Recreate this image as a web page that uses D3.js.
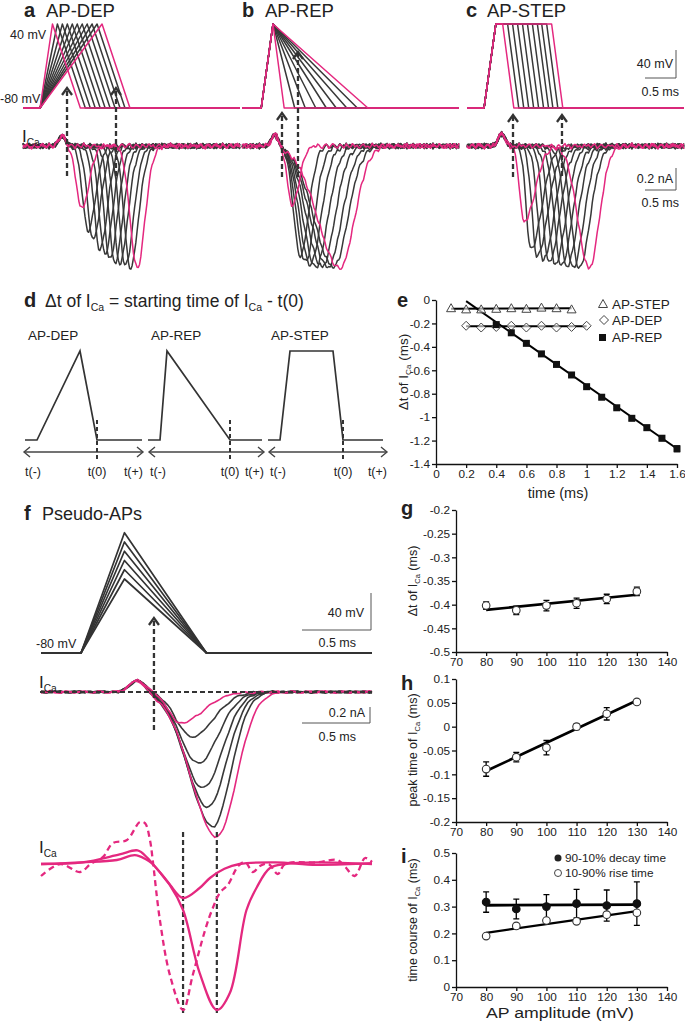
<!DOCTYPE html>
<html><head><meta charset="utf-8">
<script src="https://cdn.jsdelivr.net/npm/d3@7/dist/d3.min.js"></script>
<style>html,body{margin:0;padding:0;background:#fff;}svg{display:block}</style>
</head><body>
<script>
// ================= DATA =================
// Panel a (AP-DEP): depolarisation durations (ms) and I_Ca trough parameters (ms, nA)
const depDur = [0.20,0.28,0.36,0.44,0.52,0.60,0.68,0.76,0.84,0.92,1.00];
const aOn  = [0.72,0.82,0.90,1.00,1.08,1.16,1.24,1.32,1.40,1.48,1.55];
const aTr  = [0.95,1.05,1.13,1.24,1.32,1.40,1.48,1.56,1.65,1.73,1.84];
const aAmp = [-0.57,-0.77,-0.85,-0.94,-0.98,-1.03,-1.06,-1.07,-1.09,-1.11,-1.11];
const aEnd = [1.25,1.36,1.45,1.56,1.65,1.73,1.82,1.90,1.99,2.07,2.17];
// Panel b (AP-REP)
const repDur = [0.18,0.35,0.52,0.69,0.86,1.02,1.19,1.36,1.53];
const bOn  = [0.61,0.66,0.66,0.66,0.66,0.66,0.66,0.66,0.66];
const bTr  = [0.81,0.94,1.02,1.10,1.19,1.29,1.39,1.48,1.58];
const bAmp = [-0.54,-1.00,-1.05,-1.08,-1.10,-1.10,-1.10,-1.10,-1.11];
const bEnd = [1.10,1.29,1.42,1.55,1.69,1.82,1.95,2.06,2.18];
// Panel c (AP-STEP)
const stepDur = [0.11,0.19,0.27,0.35,0.43,0.51,0.59,0.67,0.74,0.82,0.90];
const cOn  = [0.74,0.84,0.92,1.00,1.08,1.15,1.23,1.31,1.39,1.47,1.50];
const cTr  = [0.92,1.03,1.13,1.23,1.32,1.42,1.52,1.61,1.71,1.81,1.97];
const cAmp = [-0.69,-0.94,-1.00,-1.04,-1.06,-1.08,-1.09,-1.10,-1.11,-1.11,-1.11];
const cEnd = [1.37,1.48,1.58,1.68,1.77,1.87,1.97,2.06,2.16,2.26,2.39];
// baseline jitter pattern (relative units)
const jitterPattern = [0.3,-0.5,0.8,-0.2,-0.9,0.4,0.6,-0.7,0.1,0.9,-0.4,-0.6,0.5,0.2,-0.8,0.7,-0.1,-0.5,0.9,-0.3,0.4,-0.9,0.2,0.6,-0.4,0.1,-0.7,0.8,-0.2,0.5,-0.6,0.3,0.7,-0.8,0.0,0.6,-0.3,-0.5,0.4,-0.1];

// Panel d schematic shapes (time units, normalised V)
const dDep  = [[0,0],[0.12,0],[0.55,1],[0.72,0],[1.17,0]];
const dRep  = [[0,0],[0.12,0],[0.19,1],[0.82,0],[1.14,0]];
const dStep = [[0,0],[0.12,0],[0.22,1],[0.65,1],[0.75,0],[1.15,0]];
const dT0   = [0.72,0.82,0.75];
const dNames = ["AP-DEP","AP-REP","AP-STEP"];
const dTickLabels = ["t(-)","t(0)","t(+)"];

// Panel e
const eStepX = [0.1,0.2,0.3,0.4,0.5,0.6,0.7,0.8,0.9];
const eStepY = [-0.07,-0.08,-0.08,-0.075,-0.07,-0.075,-0.065,-0.07,-0.08];
const eDepX  = [0.2,0.3,0.4,0.5,0.6,0.7,0.8,0.9,1.0];
const eDepY  = [-0.22,-0.235,-0.23,-0.22,-0.235,-0.22,-0.235,-0.23,-0.22];
const eRepX  = [0.4,0.5,0.6,0.7,0.8,0.9,1.0,1.1,1.2,1.3,1.4,1.5,1.6];
const eRepY  = [-0.21,-0.28,-0.37,-0.46,-0.55,-0.64,-0.74,-0.83,-0.92,-1.01,-1.09,-1.18,-1.27];
const eRepErr= [0,0,0,0,0,0,0,0,0.01,0.015,0.02,0.02,0.025];
const eStepFit = [[0.1,-0.075],[0.9,-0.07]];
const eDepFit  = [[0.2,-0.225],[1.0,-0.225]];
const eRepFit  = [[0.2,-0.01],[1.6,-1.27]];
const eXTicks = [0,0.2,0.4,0.6,0.8,1,1.2,1.4,1.6];
const eYTicks = [0,-0.2,-0.4,-0.6,-0.8,-1,-1.2,-1.4];

// Panel f
const fAmpMV = [130,120,110,100,90,80];
const fTr  = [1.007,1.094,1.138,1.174,1.21,1.246,1.275];
const fIpk = [-0.39,-0.56,-0.89,-1.20,-1.44,-1.68,-1.81];
const fEnd = [1.44,1.50,1.52,1.54,1.56,1.58,1.64];
const fSmall = [[0,0],[0.3,0.02],[0.55,0.05],[0.68,0.11],[0.76,0.06],[0.81,0],[0.935,-0.26],[1.03,-0.425],[1.15,-0.3],[1.225,-0.175],[1.33,-0.06],[1.44,0],[1.7,0.02],[2.0,-0.01],[2.4,0.01]];
const fLarge = [[0,0],[0.3,0.02],[0.57,0.12],[0.70,0.17],[0.77,0.08],[0.81,0],[0.93,-0.25],[1.03,-0.575],[1.15,-1.36],[1.275,-1.825],[1.37,-1.61],[1.49,-0.575],[1.565,-0.29],[1.66,-0.05],[1.77,0],[2.0,0.02],[2.4,0]];
const fDashed = [[0,-0.15],[0.14,0.0],[0.283,-0.1],[0.36,0.0],[0.45,0.09],[0.52,0.26],[0.623,0.3],[0.717,0.525],[0.754,0.51],[0.79,0.3],[0.81,0.05],[0.862,-0.7],[0.935,-1.39],[1.03,-1.825],[1.10,-1.39],[1.19,-0.825],[1.24,-0.575],[1.297,-0.36],[1.355,-0.26],[1.43,-0.025],[1.48,0.025],[1.536,-0.1],[1.587,-0.025],[1.65,0.0],[1.717,-0.125],[1.77,0],[2.0,0.02],[2.15,0.05],[2.2,-0.025],[2.275,-0.15],[2.35,0.075],[2.4,0.025]];
const fPeakTimes = [1.03,1.275];

// Panels g, h, i
const ampX = [80,90,100,110,120,130];
const gY = [-0.402,-0.412,-0.402,-0.397,-0.388,-0.372];
const gErr = [0.008,0.009,0.011,0.011,0.010,0.009];
const gFit = [[80,-0.411],[130,-0.379]];
const hY = [-0.089,-0.064,-0.044,0.0,0.027,0.052];
const hErr = [0.015,0.010,0.015,0.006,0.013,0.003];
const hFit = [[80,-0.093],[130,0.055]];
const iDecay = [0.317,0.291,0.300,0.311,0.304,0.311];
const iDecayErr = [0.038,0.037,0.045,0.053,0.058,0.081];
const iRise = [0.190,0.228,0.248,0.245,0.270,0.277];
const iDecayFit = [[80,0.305],[130,0.307]];
const iRiseFit = [[80,0.202],[130,0.283]];
const ampTicks = [70,80,90,100,110,120,130,140];
const gTicks = [-0.2,-0.25,-0.3,-0.35,-0.4,-0.45,-0.5];
const hTicks = [0.1,0.05,0,-0.05,-0.1,-0.15,-0.2];
const iTicks = [0.5,0.4,0.3,0.2,0.1,0];

// ================= DRAWING =================
const W = 685, H = 1023;
const MAG = "#e4287f", DK = "#383838", AXC = "#111";
const FONT = '"Liberation Sans", Arial, Helvetica, sans-serif';
const svg = d3.select("body").append("svg").attr("width", W).attr("height", H);

function label(x, y, segs, o = {}) {
  const size = o.size || 12, sx = o.sx || 1;
  const g = svg.append("g").attr("transform", `translate(${x},${y})` + (o.rot ? ` rotate(${o.rot})` : "") + ` scale(${sx},1)`);
  const t = g.append("text").attr("font-family", FONT).attr("font-size", size)
    .attr("fill", o.fill || "#222").attr("text-anchor", o.anchor || "start")
    .attr("font-weight", o.weight || "normal");
  if (typeof segs === "string") segs = [{t: segs}];
  let shifted = false;
  segs.forEach(s => {
    const ts = t.append("tspan").text(s.t);
    if (s.sub) { ts.attr("font-size", size * 0.6).attr("dy", size * 0.25); shifted = true; }
    else if (shifted) { ts.attr("dy", -size * 0.25); shifted = false; }
  });
  return t;
}
function jitter(t, off) {
  const n = jitterPattern.length;
  const u = t / 0.035 + off;
  const i0 = Math.floor(u), f = u - i0;
  const a = jitterPattern[((i0 % n) + n) % n], b = jitterPattern[(((i0 + 1) % n) + n) % n];
  return a + (b - a) * f;
}
function currentPts(p) {
  const pts = [];
  const sl = (p.tr - p.on) / 2.6, sr = (p.end - p.tr) / 2.6;
  for (let t = 0; t <= p.tMax + 1e-9; t += 0.02) {
    const z = t < p.tr ? (t - p.tr) / sl : (t - p.tr) / sr;
    let v = p.amp * Math.exp(-0.5 * z * z);
    v += p.bumpA * Math.exp(-0.5 * ((t - p.bumpT) / 0.055) ** 2);
    v += jitter(t, p.off) * p.noise;
    pts.push([t, v]);
  }
  return pts;
}
function dashedArrow(x, yTail, yTip) {
  svg.append("line").attr("x1", x).attr("x2", x).attr("y1", yTail).attr("y2", yTip + 2)
    .attr("stroke", "#333").attr("stroke-width", 2.3).attr("stroke-dasharray", "5,3");
  svg.append("path").attr("d", `M${x - 5},${yTip + 7}L${x},${yTip}L${x + 5},${yTip + 7}`)
    .attr("fill", "none").attr("stroke", "#333").attr("stroke-width", 2.3);
}
function scaleBar(xR, yTop, yMid, xL) {
  svg.append("path").attr("d", `M${xR},${yTop}V${yMid}H${xL}`).attr("fill", "none")
    .attr("stroke", "#555").attr("stroke-width", 1);
}

// ----- panels a, b, c -----
const yV = d3.scaleLinear().domain([-80, 40]).range([108, 24]);
const yIabc = d3.scaleLinear().domain([0, -1]).range([146, 256]);
const xA = d3.scaleLinear().domain([0, 3.5]).range([23, 240]);
const xB = d3.scaleLinear().domain([0, 3.5]).range([242, 459]);
const xC = d3.scaleLinear().domain([0, 3.5]).range([467, 684]);

function drawSet(xs, vTraces, iTraces) {
  const lv = d3.line().x(d => xs(d[0])).y(d => yV(d[1]));
  const li = d3.line().x(d => xs(d[0])).y(d => yIabc(d[1]));
  const n = vTraces.length;
  const order = d3.range(1, n - 1).concat([0, n - 1]);
  order.forEach(k => {
    const c = (k === 0 || k === n - 1) ? MAG : DK;
    svg.append("path").attr("d", lv(vTraces[k])).attr("fill", "none").attr("stroke", c).attr("stroke-width", 1.5).attr("stroke-linejoin", "round");
  });
  order.forEach(k => {
    const c = (k === 0 || k === n - 1) ? MAG : DK;
    svg.append("path").attr("d", li(currentPts(iTraces[k]))).attr("fill", "none").attr("stroke", c).attr("stroke-width", 1.5).attr("stroke-linejoin", "round");
  });
}
// a
drawSet(xA,
  depDur.map(d => [[0,-80],[0.275,-80],[0.275+d,40],[0.275+d+0.45,-80],[3.5,-80]]),
  depDur.map((d,k) => ({on:aOn[k],tr:aTr[k],amp:aAmp[k],end:aEnd[k],bumpT:0.63,bumpA:0.09,noise:0.03,off:k*3,tMax:3.5})));
// b
drawSet(xB,
  repDur.map(r => [[0,-80],[0.31,-80],[0.50,40],[0.50+r,-80],[3.5,-80]]),
  repDur.map((r,k) => ({on:bOn[k],tr:bTr[k],amp:bAmp[k],end:bEnd[k],bumpT:0.53,bumpA:0.11,noise:0.03,off:k*3+7,tMax:3.5})));
// c
drawSet(xC,
  stepDur.map(p => [[0,-80],[0.275,-80],[0.465,40],[0.465+p,40],[0.645+p,-80],[3.5,-80]]),
  stepDur.map((p,k) => ({on:cOn[k],tr:cTr[k],amp:cAmp[k],end:cEnd[k],bumpT:0.56,bumpA:0.11,noise:0.03,off:k*3+13,tMax:3.5})));

dashedArrow(xA(0.71), 176, 88);
dashedArrow(xA(1.5), 176, 88);
dashedArrow(xB(0.645), 177, 113);
dashedArrow(xB(0.903), 177, 52);
dashedArrow(xC(0.742), 177, 115);
dashedArrow(xC(1.532), 176, 115);

label(24, 17, "a", {size: 20, weight: "bold", fill: "#222"});
label(46, 17, "AP-DEP", {size: 18.5});
label(242, 17, "b", {size: 20, weight: "bold", fill: "#222"});
label(265, 17, "AP-REP", {size: 18.5});
label(466, 17, "c", {size: 20, weight: "bold", fill: "#222"});
label(487, 17, "AP-STEP", {size: 18.5});
label(10, 39, "40 mV", {size: 12.5});
label(0, 103, "-80 mV", {size: 12.5});
label(22, 142, [{t:"I"},{t:"Ca",sub:true}], {size: 17});
// scale bars c
scaleBar(676, 50, 78, 645);
label(673, 68, "40 mV", {size: 12.5, anchor: "end"});
label(679, 96, "0.5 ms", {size: 12.5, anchor: "end"});
scaleBar(676, 168, 190, 645);
label(673, 183, "0.2 nA", {size: 12.5, anchor: "end"});
label(679, 207, "0.5 ms", {size: 12.5, anchor: "end"});

// ----- panel d -----
label(24, 307, "d", {size: 20, weight: "bold", fill: "#222"});
label(45, 307, [{t:"\u0394t of I"},{t:"Ca",sub:true},{t:" = starting time of I"},{t:"Ca",sub:true},{t:" - t(0)"}], {size: 17.5});
const yD = d3.scaleLinear().domain([0, 1]).range([440, 351]);
const dScales = [d3.scaleLinear().domain([0,1.2]).range([25,145]),
                 d3.scaleLinear().domain([0,1.2]).range([148,268]),
                 d3.scaleLinear().domain([0,1.2]).range([268,388])];
const dArrowExt = [[-0.01,1.18],[0.01,1.16],[0.01,1.19]];
[dDep, dRep, dStep].forEach((shape, k) => {
  const xs = dScales[k];
  svg.append("path").attr("d", d3.line().x(d => xs(d[0])).y(d => yD(d[1]))(shape))
    .attr("fill", "none").attr("stroke", "#333").attr("stroke-width", 1.7);
  const x0 = xs(dArrowExt[k][0]), x1 = xs(dArrowExt[k][1]), ya = 452;
  svg.append("line").attr("x1", x0).attr("x2", x1).attr("y1", ya).attr("y2", ya).attr("stroke", "#444").attr("stroke-width", 1.4);
  svg.append("path").attr("d", `M${x0+6},${ya-5}L${x0},${ya}L${x0+6},${ya+5}M${x1-6},${ya-5}L${x1},${ya}L${x1-6},${ya+5}`)
    .attr("fill", "none").attr("stroke", "#444").attr("stroke-width", 1.4);
  const xt = xs(dT0[k]);
  svg.append("line").attr("x1", xt).attr("x2", xt).attr("y1", 420).attr("y2", 462)
    .attr("stroke", "#333").attr("stroke-width", 2).attr("stroke-dasharray", "4,3");
  label(xs(0.03), 340, dNames[k], {size: 13.5});
  label(x0 + 1, 476, dTickLabels[0], {size: 12.5});
  label(xt, 476, dTickLabels[1], {size: 12.5, anchor: "middle"});
  label(x1, 476, dTickLabels[2], {size: 12.5, anchor: "end"});
});

// ----- axes helper -----
const fmt = d => String(+(+d).toFixed(2));
function axes(x, y, xTicks, yTicks) {
  const gx = svg.append("g").attr("transform", `translate(0,${y.range()[1]})`)
    .call(d3.axisBottom(x).tickValues(xTicks).tickFormat(fmt).tickSize(4).tickSizeOuter(0).tickPadding(2));
  const gy = svg.append("g").attr("transform", `translate(${x.range()[0]},0)`)
    .call(d3.axisLeft(y).tickValues(yTicks).tickFormat(fmt).tickSize(4).tickSizeOuter(0).tickPadding(2));
  [gx, gy].forEach(g => {
    g.selectAll("path,line").attr("stroke", AXC).attr("stroke-width", 1.3);
    g.selectAll("text").attr("font-family", FONT).attr("font-size", 11.8).attr("fill", "#222");
  });
}
function fitLine(x, y, pts, w) {
  svg.append("path").attr("d", d3.line().x(d => x(d[0])).y(d => y(d[1]))(pts))
    .attr("stroke", "#000").attr("stroke-width", w).attr("fill", "none");
}
function errBars(x, y, xs, ys, es) {
  xs.forEach((xv, i) => {
    if (!es[i]) return;
    const px = x(xv), y1 = y(ys[i] - es[i]), y2 = y(ys[i] + es[i]);
    svg.append("path").attr("d", `M${px},${y1}V${y2}M${px-3},${y1}H${px+3}M${px-3},${y2}H${px+3}`)
      .attr("stroke", "#000").attr("stroke-width", 1.3).attr("fill", "none");
  });
}

// ----- panel e -----
const xE = d3.scaleLinear().domain([0, 1.6]).range([436, 677]);
const yE = d3.scaleLinear().domain([0, -1.4]).range([300, 464]);
axes(xE, yE, eXTicks, eYTicks);
label(397, 307, "e", {size: 20, weight: "bold", fill: "#222"});
label(408, 372, [{t:"\u0394t of I"},{t:"Ca",sub:true},{t:" (ms)"}], {size: 13.5, rot: -90, anchor: "middle"});
label(558, 498, "time (ms)", {size: 14.5, anchor: "middle"});
fitLine(xE, yE, eStepFit, 2);
fitLine(xE, yE, eDepFit, 2);
fitLine(xE, yE, eRepFit, 2);
errBars(xE, yE, eRepX, eRepY, eRepErr);
const tri = "M0,-4.5L4.5,3.5L-4.5,3.5Z", dia = "M0,-4.5L4.5,0L0,4.5L-4.5,0Z";
eStepX.forEach((v, i) => svg.append("path").attr("d", tri).attr("transform", `translate(${xE(v)},${yE(eStepY[i])})`).attr("fill", "#fff").attr("fill-opacity", 0.6).attr("stroke", "#444").attr("stroke-width", 1));
eDepX.forEach((v, i) => svg.append("path").attr("d", dia).attr("transform", `translate(${xE(v)},${yE(eDepY[i])})`).attr("fill", "#fff").attr("fill-opacity", 0.6).attr("stroke", "#444").attr("stroke-width", 1));
eRepX.forEach((v, i) => svg.append("rect").attr("x", xE(v) - 3.5).attr("y", yE(eRepY[i]) - 3.5).attr("width", 7).attr("height", 7).attr("fill", "#111"));
// legend e
svg.append("path").attr("d", tri).attr("transform", "translate(603,304)").attr("fill", "none").attr("stroke", "#444");
label(612, 309, "AP-STEP", {size: 13.5});
svg.append("path").attr("d", dia).attr("transform", "translate(604,320)").attr("fill", "none").attr("stroke", "#444");
label(612, 325, "AP-DEP", {size: 13.5});
svg.append("rect").attr("x", 599).attr("y", 334).attr("width", 7).attr("height", 7).attr("fill", "#111");
label(612, 342, "AP-REP", {size: 13.5});

// ----- panel f -----
const xF = d3.scaleLinear().domain([0, 2.4]).range([41, 372]);
const yVf = d3.scaleLinear().domain([-80, 50]).range([653, 532.75]);
const yIf = d3.scaleLinear().domain([0, -1]).range([692, 772]);
const yIf2 = d3.scaleLinear().domain([0, -1]).range([864, 944]);
label(24, 520, "f", {size: 20, weight: "bold", fill: "#222"});
label(42, 520, "Pseudo-APs", {size: 18});
fAmpMV.forEach(a => {
  svg.append("path").attr("d", d3.line().x(d => xF(d[0])).y(d => yVf(d[1]))([[0,-80],[0.29,-80],[0.605,-80+a],[1.2,-80],[2.4,-80]]))
    .attr("fill", "none").attr("stroke", "#333").attr("stroke-width", 1.7).attr("stroke-linejoin", "round");
});
label(36, 648, "-80 mV", {size: 12.5});
scaleBar(371, 593, 630, 302);
label(364, 617, "40 mV", {size: 12.5, anchor: "end"});
label(356, 647, "0.5 ms", {size: 12.5, anchor: "end"});
// currents f
const liF = d3.line().x(d => xF(d[0])).y(d => yIf(d[1]));
const fOrder = [1,2,3,4,5,0,6];
fOrder.forEach(k => {
  const c = (k === 0 || k === 6) ? MAG : DK;
  const pts = currentPts({on:0.80, tr:fTr[k], amp:fIpk[k], end:fEnd[k], bumpT:0.70, bumpA:0.15, noise:0.018, off:k*5, tMax:2.4});
  svg.append("path").attr("d", liF(pts)).attr("fill", "none").attr("stroke", c).attr("stroke-width", 1.6).attr("stroke-linejoin", "round");
});
svg.append("line").attr("x1", 40).attr("x2", 372).attr("y1", yIf(0)).attr("y2", yIf(0))
  .attr("stroke", "#333").attr("stroke-width", 2).attr("stroke-dasharray", "5,3");
dashedArrow(xF(0.819), 730, 618);
label(39, 688, [{t:"I"},{t:"Ca",sub:true}], {size: 17});
scaleBar(370, 707, 723, 302);
label(365, 717, "0.2 nA", {size: 12.5, anchor: "end"});
label(356, 741, "0.5 ms", {size: 12.5, anchor: "end"});
// bottom f
const lc = d3.line().x(d => xF(d[0])).y(d => yIf2(d[1])).curve(d3.curveCatmullRom.alpha(0.5));
fPeakTimes.forEach(t => svg.append("line").attr("x1", xF(t)).attr("x2", xF(t)).attr("y1", 832).attr("y2", 1016)
  .attr("stroke", "#333").attr("stroke-width", 2.2).attr("stroke-dasharray", "5,3"));
svg.append("path").attr("d", lc(fDashed)).attr("fill", "none").attr("stroke", MAG).attr("stroke-width", 2.3).attr("stroke-dasharray", "6,4");
svg.append("path").attr("d", lc(fSmall)).attr("fill", "none").attr("stroke", MAG).attr("stroke-width", 2.3);
svg.append("path").attr("d", lc(fLarge)).attr("fill", "none").attr("stroke", MAG).attr("stroke-width", 2.3);
label(39, 853, [{t:"I"},{t:"Ca",sub:true}], {size: 17});

// ----- panels g, h, i -----
const xG = d3.scaleLinear().domain([70, 140]).range([456, 667]);
const yG = d3.scaleLinear().domain([-0.2, -0.5]).range([510, 652]);
const yH = d3.scaleLinear().domain([0.1, -0.2]).range([679, 822]);
const yI = d3.scaleLinear().domain([0.5, 0]).range([853, 987]);
function openCircles(x, y, xs, ys, fill) {
  xs.forEach((v, i) => svg.append("circle").attr("cx", x(v)).attr("cy", y(ys[i])).attr("r", 3.8)
    .attr("fill", fill).attr("stroke", fill === "#fff" ? "#333" : "#111").attr("stroke-width", 1.1));
}
// g
axes(xG, yG, ampTicks, gTicks);
label(401, 515, "g", {size: 20, weight: "bold", fill: "#222"});
label(417, 581, [{t:"\u0394t of I"},{t:"Ca",sub:true},{t:" (ms)"}], {size: 12.5, rot: -90, anchor: "middle"});
errBars(xG, yG, ampX, gY, gErr);
fitLine(xG, yG, gFit, 2.6);
openCircles(xG, yG, ampX, gY, "#fff");
// h
axes(xG, yH, ampTicks, hTicks);
label(401, 690, "h", {size: 20, weight: "bold", fill: "#222"});
label(417, 750, [{t:"peak time of I"},{t:"Ca",sub:true},{t:" (ms)"}], {size: 12.5, rot: -90, anchor: "middle"});
errBars(xG, yH, ampX, hY, hErr);
fitLine(xG, yH, hFit, 2.6);
openCircles(xG, yH, ampX, hY, "#fff");
// i
axes(xG, yI, ampTicks, iTicks);
label(401, 863, "i", {size: 20, weight: "bold", fill: "#222"});
label(417, 920, [{t:"time course of I"},{t:"Ca",sub:true},{t:" (ms)"}], {size: 12.5, rot: -90, anchor: "middle"});
label(560, 1018, "AP amplitude (mV)", {size: 14.5, anchor: "middle", sx: 1.22});
errBars(xG, yI, ampX, iDecay, iDecayErr);
fitLine(xG, yI, iDecayFit, 2.8);
fitLine(xG, yI, iRiseFit, 2.2);
openCircles(xG, yI, ampX, iDecay, "#111");
openCircles(xG, yI, ampX, iRise, "#fff");
svg.append("circle").attr("cx", 558).attr("cy", 858).attr("r", 3.5).attr("fill", "#222");
label(565, 862, "90-10% decay time", {size: 11.8});
svg.append("circle").attr("cx", 558).attr("cy", 873).attr("r", 3.5).attr("fill", "#fff").attr("stroke", "#444");
label(565, 877, "10-90% rise time", {size: 11.8});
</script>
</body></html>
